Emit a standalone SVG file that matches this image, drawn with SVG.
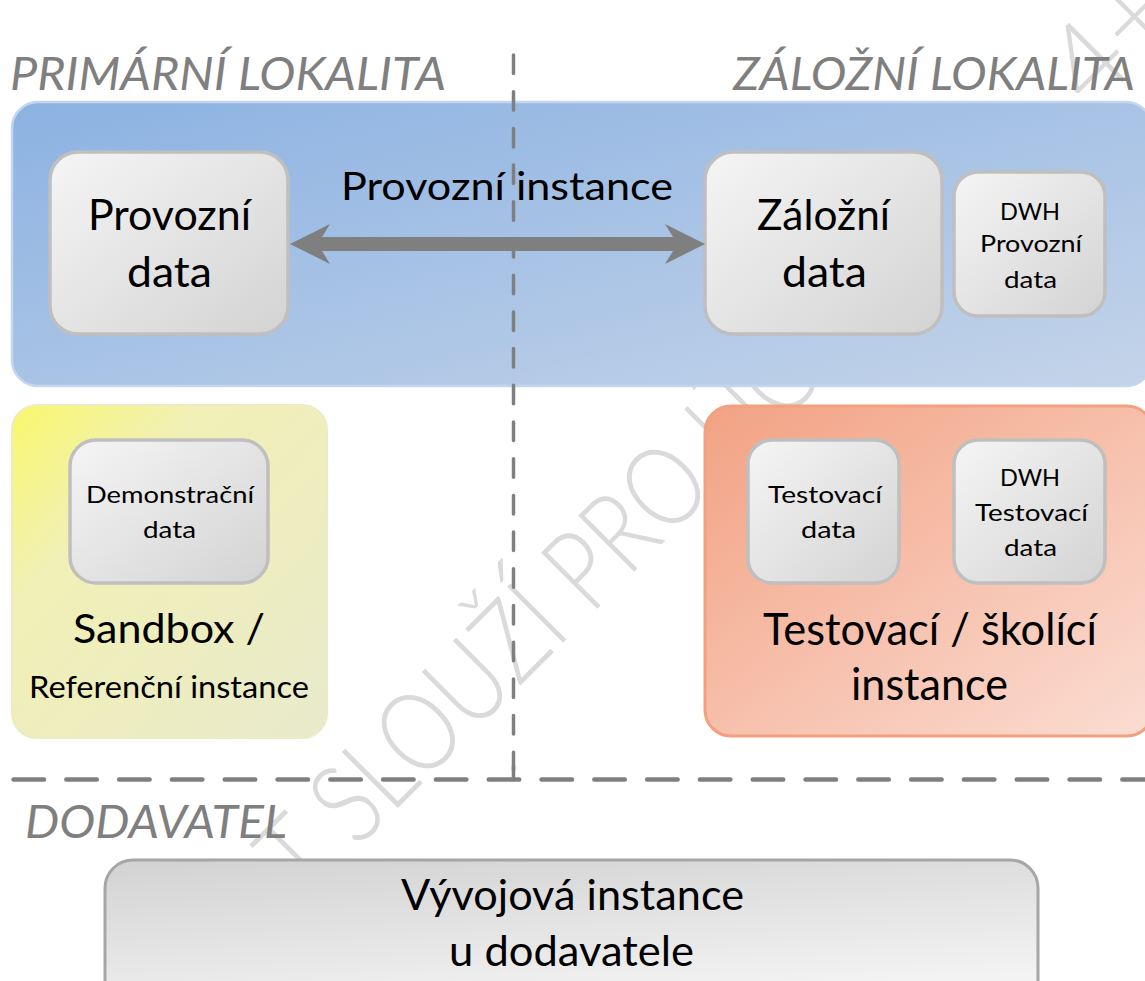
<svg xmlns="http://www.w3.org/2000/svg" width="1145" height="981" viewBox="0 0 1145 981">
<defs>
<linearGradient id="gBlue" x1="0" y1="0" x2="1" y2="1">
<stop offset="0" stop-color="#8cb2e2"/>
<stop offset="1" stop-color="#c4d4e9"/>
</linearGradient>
<linearGradient id="gYellow" x1="0" y1="0" x2="1" y2="1">
<stop offset="0" stop-color="#f9f86c"/>
<stop offset="0.3" stop-color="#f1f0b6"/>
<stop offset="1" stop-color="#e9eacc"/>
</linearGradient>
<linearGradient id="gSalmon" x1="0" y1="0" x2="1" y2="1">
<stop offset="0" stop-color="#f2a283"/>
<stop offset="1" stop-color="#fbddd3"/>
</linearGradient>
<linearGradient id="gGray" x1="0" y1="0" x2="1" y2="1">
<stop offset="0" stop-color="#f5f5f5"/>
<stop offset="1" stop-color="#d3d3d3"/>
</linearGradient>
<linearGradient id="gDev" x1="0" y1="0" x2="0.4" y2="1">
<stop offset="0" stop-color="#d2d2d2"/>
<stop offset="1" stop-color="#f3f3f3"/>
</linearGradient>
<style>
text{font-family:Lato,"Open Sans","Liberation Sans",sans-serif;text-anchor:middle;fill:#000}
.hdr{font-style:italic;fill:#7f7f7f;font-size:46px;text-anchor:start}
.big{font-size:42px}
.sm{font-size:23px}
.wm{font-size:112px;fill:#dadada;font-weight:300;text-anchor:start}
.inner{fill:url(#gGray);stroke:#bfbfbf;stroke-width:3.5}
.dash{fill:none;stroke:#7f7f7f;stroke-linecap:round}
</style>
</defs>
<rect width="1145" height="981" fill="#ffffff"/>

<g id="watermark">
<text class="wm" transform="translate(304.5,901.5) rotate(-45)" textLength="735" lengthAdjust="spacingAndGlyphs">T SLOUŽÍ PRO ÚČ</text>
<text class="wm" transform="translate(1092,112) rotate(-45)">4+</text>
</g>

<g id="headers">
<text class="hdr" x="10" y="90" textLength="436" lengthAdjust="spacingAndGlyphs">PRIMÁRNÍ LOKALITA</text>
<text class="hdr" x="733" y="90" textLength="402" lengthAdjust="spacingAndGlyphs">ZÁLOŽNÍ LOKALITA</text>
<text class="hdr" x="25" y="838" textLength="262" lengthAdjust="spacingAndGlyphs">DODAVATEL</text>
</g>

<g id="provozni-instance">
<rect x="12" y="102" width="1140" height="284" rx="26" fill="url(#gBlue)" stroke="#c3d6ee" stroke-width="2.5"/>
<text class="big" x="507" y="200" style="font-size:39px" textLength="332" lengthAdjust="spacingAndGlyphs">Provozní instance</text>
</g>

<g id="provozni-data">
<rect class="inner" x="50" y="152" width="238" height="182" rx="28"/>
<text class="big" x="169.5" y="230" textLength="163" lengthAdjust="spacingAndGlyphs">Provozní</text>
<text class="big" x="169.5" y="287" textLength="85" lengthAdjust="spacingAndGlyphs">data</text>
</g>

<g id="zalozni-data">
<rect class="inner" x="705" y="152" width="237" height="182" rx="28"/>
<text class="big" x="823.5" y="230" textLength="133" lengthAdjust="spacingAndGlyphs">Záložní</text>
<text class="big" x="824.5" y="287" textLength="85" lengthAdjust="spacingAndGlyphs">data</text>
</g>

<g id="dwh-provozni-data">
<rect class="inner" x="954" y="172" width="151" height="144" rx="24"/>
<text class="sm" x="1030" y="220" textLength="60" lengthAdjust="spacingAndGlyphs">DWH</text>
<text class="sm" x="1031" y="252" textLength="102" lengthAdjust="spacingAndGlyphs">Provozní</text>
<text class="sm" x="1030.5" y="288" textLength="53" lengthAdjust="spacingAndGlyphs">data</text>
</g>

<g id="sandbox">
<rect x="12" y="405" width="315" height="333" rx="25" fill="url(#gYellow)" stroke="#ebecc6" stroke-width="2"/>
<text class="big" x="169" y="643" style="font-size:40px" textLength="192" lengthAdjust="spacingAndGlyphs">Sandbox /</text>
<text x="169" y="698" style="font-size:30px" textLength="280" lengthAdjust="spacingAndGlyphs">Referenční instance</text>
</g>

<g id="demonstracni-data">
<rect class="inner" x="70" y="440" width="198" height="143" rx="26"/>
<text class="sm" x="170" y="503" textLength="168" lengthAdjust="spacingAndGlyphs">Demonstrační</text>
<text class="sm" x="169.5" y="538" textLength="53" lengthAdjust="spacingAndGlyphs">data</text>
</g>

<g id="testovaci-instance">
<rect x="705" y="406" width="448" height="330" rx="26" fill="url(#gSalmon)" stroke="#f2a080" stroke-width="3"/>
<text class="big" x="930" y="645" style="font-size:44px" textLength="334" lengthAdjust="spacingAndGlyphs">Testovací / školící</text>
<text class="big" x="929.5" y="700" style="font-size:44px" textLength="157" lengthAdjust="spacingAndGlyphs">instance</text>
</g>

<g id="testovaci-data">
<rect class="inner" x="748" y="440" width="151" height="143" rx="24"/>
<text class="sm" x="825" y="503" textLength="114" lengthAdjust="spacingAndGlyphs">Testovací</text>
<text class="sm" x="828.5" y="538" textLength="55" lengthAdjust="spacingAndGlyphs">data</text>
</g>

<g id="dwh-testovaci-data">
<rect class="inner" x="954" y="440" width="151" height="143" rx="24"/>
<text class="sm" x="1030" y="486" textLength="60" lengthAdjust="spacingAndGlyphs">DWH</text>
<text class="sm" x="1031.5" y="521" textLength="113" lengthAdjust="spacingAndGlyphs">Testovací</text>
<text class="sm" x="1030.5" y="556" textLength="53" lengthAdjust="spacingAndGlyphs">data</text>
</g>

<g id="vyvojova-instance">
<rect x="105" y="860" width="933" height="150" rx="28" fill="url(#gDev)" stroke="#a6a6a6" stroke-width="3"/>
<text class="big" x="572.5" y="910" textLength="343" lengthAdjust="spacingAndGlyphs">Vývojová instance</text>
<text class="big" x="571.5" y="966" textLength="245" lengthAdjust="spacingAndGlyphs">u dodavatele</text>
</g>

<g id="connectors">
<polygon fill="#7f7f7f" points="290,244 330,224 322,237 673,237 665,224 705,244 665,264 673,251 322,251 330,264"/>
<path class="dash" d="M513.5,55 V779" stroke-width="3.5" stroke-dasharray="18.5 18.2"/>
<path class="dash" d="M513.5,766 V779" stroke-width="3.5"/>
<path class="dash" d="M13.5,779.5 H1145" stroke-width="4.5" stroke-dasharray="30.5 22.3"/>
</g>
</svg>
